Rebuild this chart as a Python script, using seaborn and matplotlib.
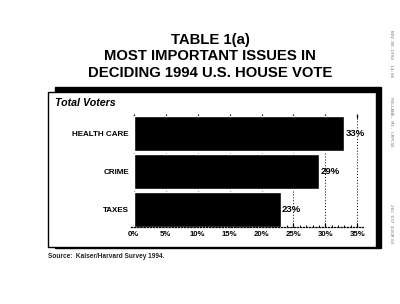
import matplotlib
matplotlib.use("Agg")
import matplotlib.pyplot as plt
import seaborn as sns
import pandas as pd
from matplotlib.patches import Rectangle
from matplotlib.ticker import MultipleLocator, FuncFormatter

categories = ["HEALTH CARE", "CRIME", "TAXES"]
values = [33, 29, 23]
xticks = [0, 5, 10, 15, 20, 25, 30, 35]
title_lines = ["TABLE 1(a)", "MOST IMPORTANT ISSUES IN", "DECIDING 1994 U.S. HOUSE VOTE"]
panel_title = "Total Voters"
source = "Source:  Kaiser/Harvard Survey 1994."
fax_parts = ["NOV-08-1994  14:06", "HOLLAND, MI. CRPCSE", "202 637 4163", "P.03"]

sns.set_theme(style="white")
plt.rcParams["font.family"] = ["Liberation Sans", "DejaVu Sans"]

df = pd.DataFrame({"issue": categories, "pct": values})

fig = plt.figure(figsize=(4, 3.04), dpi=100)
W, H = 400, 304

def fx(px):
    return px / W

def fy(py):
    return 1 - py / H

# frame: shadow + white box
fig.patches.append(Rectangle((fx(55), fy(248)), fx(381) - fx(55), fy(87) - fy(248),
                             transform=fig.transFigure, facecolor="black",
                             edgecolor="black", zorder=-2))
fig.patches.append(Rectangle((fx(48), fy(247)), fx(376) - fx(48), fy(92) - fy(247),
                             transform=fig.transFigure, facecolor="white",
                             edgecolor="black", linewidth=1.0, zorder=-1))

ax_left, ax_right, ax_top, ax_bot = 131, 363, 114, 227
ax = fig.add_axes([fx(ax_left), fy(ax_bot), fx(ax_right) - fx(ax_left), fy(ax_top) - fy(ax_bot)])
ax.patch.set_alpha(0)

sns.barplot(data=df, x="pct", y="issue", orient="h", color="black",
            width=0.93, ax=ax, saturation=1)

ax.set_xlim(-0.45, 35.9)
ax.set_ylim(2.47, -0.53)
ax.set_xlabel("")
ax.set_ylabel("")

for s in ["top", "right", "left"]:
    ax.spines[s].set_visible(False)
ax.spines["bottom"].set_linestyle((0, (1, 1.5)))
ax.spines["bottom"].set_color("black")
ax.spines["bottom"].set_linewidth(0.9)

ax.set_xticks(xticks)
ax.xaxis.set_minor_locator(MultipleLocator(1))
ax.xaxis.set_major_formatter(FuncFormatter(lambda v, p: f"{int(v)}%"))
ax.tick_params(axis="x", which="major", direction="in", length=3, width=0.9,
               color="black", top=True, bottom=True, pad=3,
               labelsize=5.6, labelcolor="black")
ax.tick_params(axis="x", which="minor", direction="in", length=1.8, width=0.7,
               color="black", top=False, bottom=True)
for lab in ax.get_xticklabels():
    lab.set_fontweight("bold")

ax.tick_params(axis="y", length=0, pad=1.5, labelsize=5.8, labelcolor="black")
for lab in ax.get_yticklabels():
    lab.set_fontweight("bold")

ax.grid(axis="x", which="major", linestyle=(0, (1, 2)), color="black", linewidth=0.7)
ax.grid(axis="y", visible=False)
ax.set_axisbelow(True)

for c in ax.containers:
    ax.bar_label(c, labels=[f"{v}%" for v in values], padding=1,
                 fontsize=6.8, fontweight="bold", color="black")

# titles
for line, y in zip(title_lines, [40, 56.5, 73]):
    fig.text(fx(210), fy(y), line, ha="center", va="center",
             fontsize=10.7, fontweight="bold", color="black")

fig.text(fx(55), fy(103), panel_title, ha="left", va="center",
         fontsize=7.7, fontweight="bold", fontstyle="italic", color="black")

fig.text(fx(48), fy(256), source, ha="left", va="center",
         fontsize=4.7, fontweight="bold", color="#222222")

# fax header along right margin
for txt, y in zip(fax_parts, [30, 97, 204, 234]):
    fig.text(fx(391), fy(y), txt, ha="center", va="top", rotation=-90,
             fontsize=3.2, color="#777777", family="DejaVu Sans Mono")

fig.savefig("out.png", dpi=100, facecolor="white")
